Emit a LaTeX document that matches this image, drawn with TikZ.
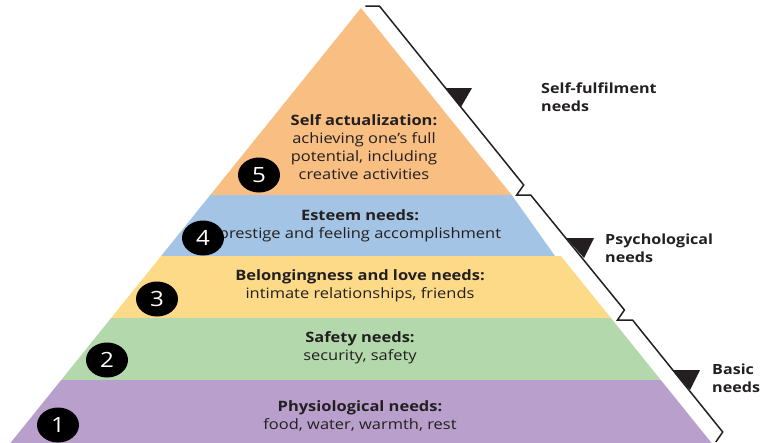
\documentclass[tikz,border=0pt]{standalone}
\usepackage{fontspec}
\setmainfont{Open Sans}[FakeStretch=1.15]
\usetikzlibrary{shapes.geometric}
\definecolor{selfc}{HTML}{F8BE82}
\definecolor{esteemc}{HTML}{A3C4E4}
\definecolor{lovec}{HTML}{FCDA87}
\definecolor{safec}{HTML}{B3D8AB}
\definecolor{physc}{HTML}{B9A0CC}
\definecolor{ink}{HTML}{231F20}
\begin{document}
\begin{tikzpicture}[x=1pt,y=-1pt,
  lvltext/.style={align=center, text=ink, font=\fontsize{14.3}{17.8}\selectfont, inner sep=0},
  numdot/.style={ellipse, fill=black, minimum width=42, minimum height=35, inner sep=0,
    text=white, font=\fontsize{21}{21}\selectfont},
  brace/.style={draw=ink, line width=1.5, line join=miter},
  wedge/.style={fill=ink},
  sidelabel/.style={anchor=west, align=left, text=ink, inner sep=0,
    font=\bfseries\fontsize{14}{17.5}\selectfont}]
\useasboundingbox (0,0) rectangle (765,442);
\clip (0,0) rectangle (765,442);

% pyramid layers, top to bottom
\fill[selfc]   (361,8) -- (511.7,195) -- (210.3,195) -- cycle;
\fill[esteemc] (210.3,195) -- (511.7,195) -- (555,256) -- (161.1,256) -- cycle;
\fill[lovec]   (161.1,256) -- (560.9,256) -- (610.9,318) -- (111.1,318) -- cycle;
\fill[safec]   (111.1,318) -- (610.9,318) -- (660.8,380) -- (61.2,380) -- cycle;
\fill[physc]   (61.2,380) -- (660.8,380) -- (725.3,460) -- (-3.3,460) -- cycle;

% layer texts
\node[lvltext] (t5) at (364,147) {\textbf{Self actualization:}\\achieving one’s full\\potential, including\\creative activities};
\node[lvltext] (t4) at (360,226) {\textbf{Esteem needs:}\\prestige and feeling accomplishment};
\node[lvltext] (t3) at (360,286) {\textbf{Belongingness and love needs:}\\intimate relationships, friends};
\node[lvltext] (t2) at (360,348) {\textbf{Safety needs:}\\security, safety};
\node[lvltext] (t1) at (360,416) {\textbf{Physiological needs:}\\food, water, warmth, rest};

% numbered markers
\node[numdot] (n5) at (259,175) {5};
\node[numdot] (n4) at (203,238) {4};
\node[numdot] (n3) at (157,299) {3};
\node[numdot] (n2) at (107,360) {2};
\node[numdot] (n1) at (58,425) {1};

% grouping braces along the right edge
\draw[brace] (365.4,6) -- (379.4,6) -- (523.7,185) -- (516.7,195)
  -- (530.7,195) -- (624.4,310) -- (617.5,320)
  -- (632.5,320) -- (722.7,432) -- (715.8,442);

% brace pointers
\fill[wedge] (445.5,88) -- (472,88) -- (461,107) -- cycle;
\fill[wedge] (566.4,238) -- (594,238) -- (584,258) -- cycle;
\fill[wedge] (672.8,370) -- (700,370) -- (690,390) -- cycle;

% group labels
\node[sidelabel] (g3) at (541,97) {Self-fulfilment\\needs};
\node[sidelabel] (g2) at (605,248) {Psychological\\needs};
\node[sidelabel] (g1) at (712,378) {Basic\\needs};
\end{tikzpicture}
\end{document}
